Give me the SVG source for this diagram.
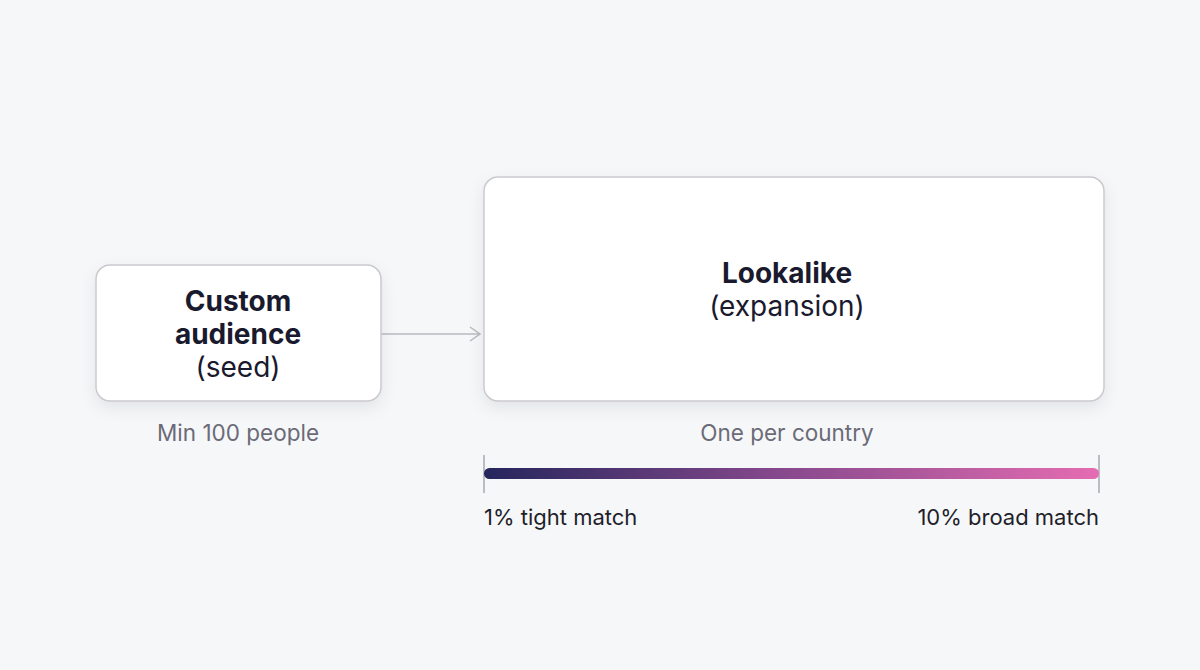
<svg xmlns="http://www.w3.org/2000/svg" width="1200" height="670" viewBox="0 0 1200 670">
<defs>
<style>
.box{fill:#ffffff;stroke:#c9c9cf;stroke-width:1.5}
.t{font-family:Inter,"Noto Sans",sans-serif;fill:#1a1a2e;text-anchor:middle}
.b{font-weight:700;font-size:28px}
.r{font-weight:400;font-size:28px}
.cap{font-family:Inter,"Noto Sans",sans-serif;font-size:22.5px;fill:#6b6b78;text-anchor:middle}
.lab{font-family:Inter,"Noto Sans",sans-serif;font-size:22px;fill:#1f1f2b}
.conn{stroke:#b8b8c0;stroke-width:1.5;fill:none}
.tick{stroke:#a8a8b0;stroke-width:1.5}
</style>
<filter id="sh" x="-20%" y="-20%" width="140%" height="160%">
<feDropShadow dx="0" dy="6" stdDeviation="8" flood-color="#000" flood-opacity="0.08"/>
</filter>
<linearGradient id="g" x1="0" x2="1" y1="0" y2="0">
<stop offset="0" stop-color="#25265c"/>
<stop offset="0.5" stop-color="#8a4a8e"/>
<stop offset="1" stop-color="#e56cb2"/>
</linearGradient>
<marker id="ah" viewBox="0 0 12 16" refX="11" refY="8" markerWidth="12" markerHeight="16" markerUnits="userSpaceOnUse" orient="auto">
<path d="M1 1 L11 8 L1 15" fill="none" stroke="#b8b8c0" stroke-width="1.5"/>
</marker>
</defs>
<rect width="1200" height="670" fill="#f6f7f9"/>
<g id="connectors">
<line class="conn" x1="381" y1="334" x2="480" y2="334" marker-end="url(#ah)"/>
</g>
<g id="seed">
<rect class="box" x="96" y="265" width="285" height="136" rx="14" filter="url(#sh)"/>
<text class="t b" x="238" y="311">Custom</text>
<text class="t b" x="238" y="344">audience</text>
<text class="t r" x="238" y="377">(seed)</text>
<text class="cap" x="238" y="441">Min 100 people</text>
</g>
<g id="lookalike">
<rect class="box" x="484" y="177" width="620" height="224" rx="14" filter="url(#sh)"/>
<text class="t b" x="787" y="283">Lookalike</text>
<text class="t r" x="787" y="316">(expansion)</text>
<text class="cap" x="787" y="441">One per country</text>
</g>
<g id="scale">
<line class="tick" x1="484" y1="455" x2="484" y2="493"/>
<line class="tick" x1="1099" y1="455" x2="1099" y2="493"/>
<rect x="484" y="468" width="615" height="11" rx="5.5" fill="url(#g)"/>
<text class="lab" x="484" y="525">1% tight match</text>
<text class="lab" x="1099" y="525" text-anchor="end">10% broad match</text>
</g>
</svg>
